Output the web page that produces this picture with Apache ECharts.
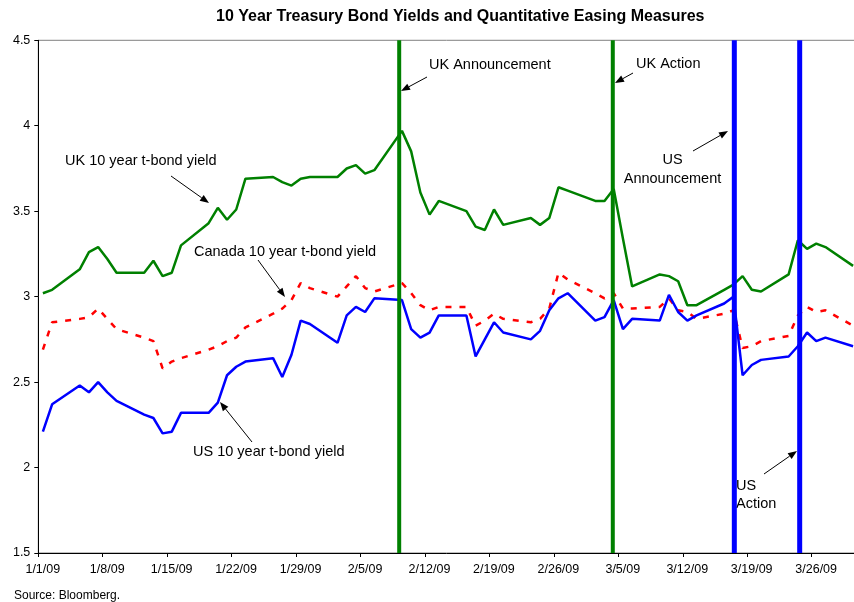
<!DOCTYPE html>
<html>
<head>
<meta charset="utf-8">
<script src="https://cdn.jsdelivr.net/npm/echarts@6/dist/echarts.min.js"></script>
<style>
  html, body { margin: 0; padding: 0; background: #fff; }
  #main { width: 854px; height: 602px; }
</style>
</head>
<body>
<div id="main"></div>
<script>
// trading days, 2009 (M/D)
var dates = [
  '1/1','1/2','1/5','1/6','1/7','1/8','1/9','1/12','1/13','1/14','1/15','1/16','1/19','1/20','1/21','1/22','1/23','1/26','1/27','1/28','1/29','1/30',
  '2/2','2/3','2/4','2/5','2/6','2/9','2/10','2/11','2/12','2/13','2/16','2/17','2/18','2/19','2/20','2/23','2/24','2/25','2/26','2/27',
  '3/2','3/3','3/4','3/5','3/6','3/9','3/10','3/11','3/12','3/13','3/16','3/17','3/18','3/19','3/20','3/23','3/24','3/25','3/26','3/27','3/30'
];
var ukYield = [
  3.02,3.04,3.16,3.26,3.29,3.22,3.14,3.14,3.21,3.12,3.14,3.30,3.43,3.52,3.45,3.51,3.69,3.70,3.67,3.65,3.69,3.70,
  3.70,3.75,3.77,3.72,3.74,3.97,3.85,3.61,3.48,3.56,3.50,3.41,3.39,3.51,3.42,3.46,3.42,3.46,3.64,3.62,
  3.56,3.56,3.63,3.34,3.06,3.13,3.12,3.09,2.95,2.95,3.04,3.07,3.12,3.04,3.03,3.13,3.33,3.28,3.31,3.29,3.18
];
var canadaYield = [
  2.69,2.85,2.87,2.88,2.93,2.87,2.81,2.76,2.74,2.58,2.62,2.64,2.69,2.71,2.74,2.76,2.82,2.90,2.93,2.98,3.08,3.05,
  3.00,3.06,3.12,3.05,3.03,3.08,3.02,2.95,2.92,2.94,2.94,2.83,2.86,2.90,2.87,2.85,2.87,2.93,3.14,3.10,
  3.02,2.99,3.02,2.93,2.93,2.94,2.99,2.92,2.91,2.87,2.90,2.92,2.70,2.71,2.74,2.77,2.89,2.94,2.91,2.92,2.83
];
var usYield = [
  2.21,2.37,2.48,2.44,2.50,2.44,2.39,2.31,2.29,2.20,2.21,2.32,2.32,2.38,2.54,2.59,2.62,2.64,2.53,2.66,2.86,2.84,
  2.73,2.89,2.94,2.91,2.99,2.98,2.81,2.76,2.79,2.89,2.89,2.65,2.75,2.85,2.79,2.75,2.80,2.92,2.99,3.02,
  2.86,2.88,2.98,2.81,2.87,2.86,3.01,2.91,2.86,2.89,2.96,3.00,2.54,2.60,2.63,2.65,2.71,2.79,2.74,2.76,2.71
];
// policy events, days since 1/1/09
var eventNames = ['UK Announcement', 'UK Action', 'US Announcement', 'US Action'];
var eventDays = [39.2, 62.4, 75.6, 82.7];
var eventColors = ['#008000', '#008000', '#0000ff', '#0000ff'];
var yTicks = [1.5, 2, 2.5, 3, 3.5, 4, 4.5];

var FONT = 'Liberation Sans, Arial, sans-serif';
var day0 = Date.UTC(2009, 0, 1);
function dayOf(s) {
  var p = s.split('/');
  return (Date.UTC(2009, +p[0] - 1, +p[1]) - day0) / 864e5;
}
function pts(vals) {
  // excel date axis: point sits in the middle of its day
  return dates.map(function (d, i) { return [dayOf(d) + 0.5, vals[i]]; });
}
function dayLabel(v) {
  if (v % 7 !== 0) return '';
  var dt = new Date(day0 + v * 864e5);
  return (dt.getUTCMonth() + 1) + '/' + dt.getUTCDate() + '/09';
}

function arrow(x1, y1, x2, y2) {
  var a = Math.atan2(y2 - y1, x2 - x1), L = 9, W = 3.5;
  var bx = x2 - L * Math.cos(a), by = y2 - L * Math.sin(a);
  return [
    { type: 'line', shape: { x1: x1, y1: y1, x2: bx, y2: by }, style: { stroke: '#000', lineWidth: 1 } },
    { type: 'polygon', shape: { points: [[x2, y2], [bx + W * Math.sin(a), by - W * Math.cos(a)], [bx - W * Math.sin(a), by + W * Math.cos(a)]] }, style: { fill: '#000' } }
  ];
}
function label(text, x, y, align) {
  return { type: 'text', x: x, y: y, style: { text: text, font: '14.5px ' + FONT, fill: '#000', align: align || 'left', verticalAlign: 'middle' } };
}

var graphics = [].concat(
  [label('UK 10 year t-bond yield', 65, 161)], arrow(171, 176, 209, 203),
  [label('Canada 10 year t-bond yield', 194, 252)], arrow(258, 260, 285, 297),
  [label('US 10 year t-bond yield', 193, 452)], arrow(252, 442, 220, 402),
  [label('UK Announcement', 429, 65)], arrow(427, 77, 401, 91),
  [label('UK Action', 636, 64)], arrow(633, 73, 615, 83),
  [label('US', 672.5, 160, 'center'), label('Announcement', 672.5, 179, 'center')], arrow(693, 151, 728, 131),
  [label('US', 736, 486), label('Action', 736, 503.5)], arrow(764, 474, 797, 451),
  [{ type: 'text', x: 14, y: 596, style: { text: 'Source: Bloomberg.', font: '12px ' + FONT, fill: '#000', verticalAlign: 'middle' } }]
);

var series = [
  { name: 'UK 10 year t-bond yield', data: pts(ukYield), color: '#008000', lineStyle: { width: 2.5, color: '#008000' } },
  { name: 'Canada 10 year t-bond yield', data: pts(canadaYield), color: '#ff0000', lineStyle: { width: 2.5, color: '#ff0000', type: [6, 8] } },
  { name: 'US 10 year t-bond yield', data: pts(usYield), color: '#0000ff', lineStyle: { width: 2.5, color: '#0000ff' } }
];
eventDays.forEach(function (d, i) {
  series.push({
    name: eventNames[i],
    data: [[d, yTicks[0]], [d, yTicks[yTicks.length - 1]]],
    lineStyle: { width: eventColors[i] === '#008000' ? 4 : 5, color: eventColors[i] }
  });
});
series.forEach(function (s) {
  s.type = 'line';
  s.symbol = 'none';
  s.silent = true;
});

var chart = echarts.init(document.getElementById('main'));
chart.setOption({
  animation: false,
  backgroundColor: '#fff',
  title: {
    text: '10 Year Treasury Bond Yields and Quantitative Easing Measures',
    left: 216, top: 9, padding: 0,
    textStyle: { fontFamily: FONT, fontSize: 16, fontWeight: 'bold', color: '#000' }
  },
  grid: {
    left: 38.3, right: -22.1, top: 40.3, bottom: 49,
    outerBoundsMode: 'none', containLabel: false,
    show: true, borderColor: '#808080', borderWidth: 1
  },
  xAxis: {
    type: 'value', min: 0, max: 91, interval: 7,
    axisLine: { lineStyle: { color: '#000', width: 1 } },
    axisTick: { show: true, length: 4, lineStyle: { color: '#000' } },
    axisLabel: { formatter: dayLabel, fontFamily: FONT, fontSize: 12.5, color: '#000', margin: 10, padding: [0, 0, 0, 9] },
    splitLine: { show: false }
  },
  yAxis: {
    type: 'value', min: yTicks[0], max: yTicks[yTicks.length - 1], interval: 0.5,
    axisLine: { show: true, lineStyle: { color: '#000', width: 1 } },
    axisTick: { show: true, length: 4, lineStyle: { color: '#000' } },
    axisLabel: { fontFamily: FONT, fontSize: 12.5, color: '#000', margin: 8 },
    splitLine: { show: false }
  },
  series: series,
  graphic: graphics
});
</script>
</body>
</html>
